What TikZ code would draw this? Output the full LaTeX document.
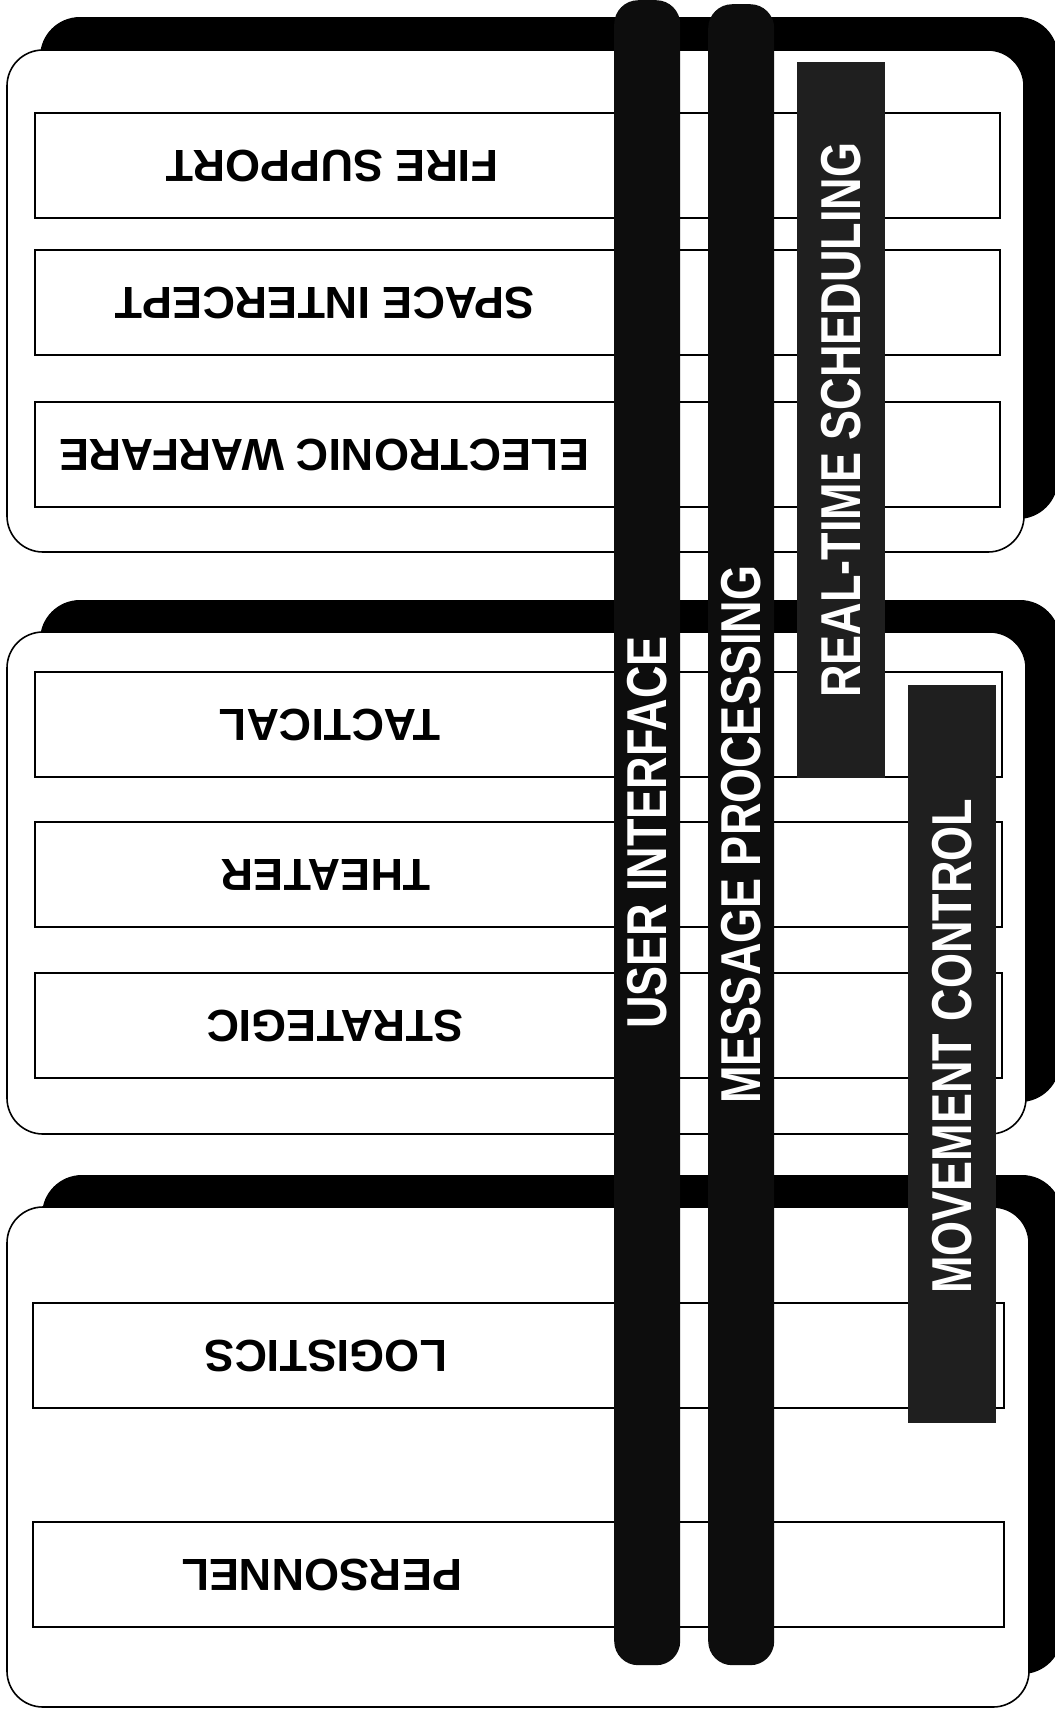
\documentclass[tikz,border=0pt]{standalone}
\usepackage{fontspec}
\setmainfont{Liberation Sans}
\usetikzlibrary{positioning}

\newcommand{\flipped}[1]{\rotatebox{180}{#1}}
\newcommand{\barlabel}[2][0pt]{\rotatebox{90}{\hspace*{#1}\scalebox{1}[1.25]{#2}}}

\begin{document}
\begin{tikzpicture}[x=1pt, y=-1pt,
  panelshadow/.style={fill=black, rounded corners=40pt},
  panel/.style={draw, fill=white, line width=1.6pt, rounded corners=36pt},
  areabox/.style={draw, fill=white, line width=1.8pt, minimum height=105pt, inner sep=0pt, outer sep=0pt},
  arealabel/.style={font=\bfseries\fontsize{45}{54}\selectfont, inner sep=0pt},
  track/.style={fill=black!95, rounded corners=24pt, minimum width=66pt, inner sep=0pt, text=white, font=\bfseries\fontsize{45}{54}\selectfont},
  block/.style={fill=black!88, minimum width=88pt, inner sep=0pt, text=white, font=\bfseries\fontsize{45}{54}\selectfont}
]
\useasboundingbox (0,0) rectangle (1055,1709);

% top panel
\fill[panelshadow] (40,17) rectangle (1058,519);
\draw[panel] (7,50) rectangle (1024,552);
\node[areabox, minimum width=965pt, anchor=north west] (fire) at (35,113) {};
\node[areabox, minimum width=965pt, below=32pt of fire] (space) {};
\node[areabox, minimum width=965pt, below=47pt of space] (ew) {};
\path (fire.west) ++(297,0) node[arealabel] (fireText) {\flipped{FIRE SUPPORT}};
\path (space.west) ++(290,0) node[arealabel] (spaceText) {\flipped{SPACE INTERCEPT}};
\path (ew.west) ++(289,0) node[arealabel] (ewText) {\flipped{ELECTRONIC WARFARE}};

% middle panel
\fill[panelshadow] (40,600) rectangle (1060,1102);
\draw[panel] (7,632) rectangle (1026,1134);
\node[areabox, minimum width=967pt, anchor=north west] (tactical) at (35,672) {};
\node[areabox, minimum width=967pt, below=45pt of tactical] (theater) {};
\node[areabox, minimum width=967pt, below=46pt of theater] (strategic) {};
\path (tactical.west) ++(295,0) node[arealabel] (tacticalText) {\flipped{TACTICAL}};
\path (theater.west) ++(291,0) node[arealabel] (theaterText) {\flipped{THEATER}};
\path (strategic.west) ++(300,0) node[arealabel] (strategicText) {\flipped{STRATEGIC}};

% bottom panel
\fill[panelshadow] (42,1175) rectangle (1062,1674);
\draw[panel] (7,1207) rectangle (1029,1707);
\node[areabox, minimum width=971pt, anchor=north west] (logistics) at (33,1303) {};
\node[areabox, minimum width=971pt, below=114pt of logistics] (personnel) {};
\path (logistics.west) ++(293,0) node[arealabel] (logisticsText) {\flipped{LOGISTICS}};
\path (personnel.west) ++(289,0) node[arealabel] (personnelText) {\flipped{PERSONNEL}};

% bars across the panels
\node[track, minimum height=1665pt, anchor=north west] (user) at (614,0) {\barlabel{USER INTERFACE}};
\node[track, minimum height=1661pt, anchor=north west] (message) at (708,4) {\barlabel{MESSAGE PROCESSING}};
\node[block, minimum height=716pt, anchor=north west] (realtime) at (797,62) {\barlabel{REAL-TIME SCHEDULING}};
\node[block, minimum height=738pt, anchor=north west] (movement) at (908,685) {\barlabel[16pt]{MOVEMENT CONTROL}};
\end{tikzpicture}
\end{document}
